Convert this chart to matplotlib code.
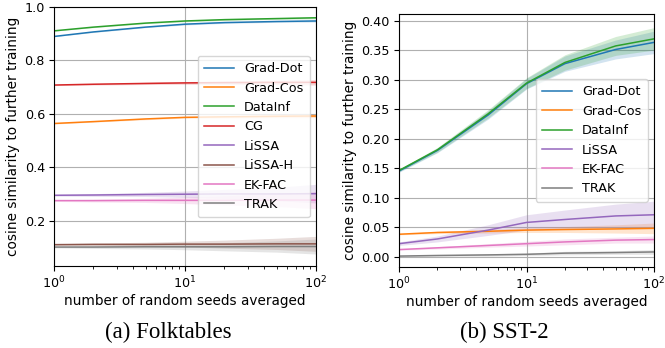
import numpy as np
from matplotlib import pyplot as plt

seeds = [1, 2, 5, 10, 20, 50, 100]

# Folktables: mean cosine similarity and band half-width per method
folk_methods = ['Grad-Dot', 'Grad-Cos', 'DataInf', 'CG', 'LiSSA', 'LiSSA-H', 'EK-FAC', 'TRAK']
folk_colors = ['C0', 'C1', 'C2', 'C3', 'C4', 'C5', 'C6', 'C7']
folk_mean = [
    [0.890, 0.907, 0.925, 0.936, 0.942, 0.946, 0.948],
    [0.564, 0.571, 0.581, 0.587, 0.589, 0.591, 0.592],
    [0.911, 0.925, 0.940, 0.948, 0.953, 0.957, 0.960],
    [0.708, 0.711, 0.714, 0.716, 0.717, 0.718, 0.718],
    [0.295, 0.296, 0.298, 0.299, 0.300, 0.300, 0.301],
    [0.110, 0.111, 0.111, 0.112, 0.112, 0.113, 0.113],
    [0.275, 0.275, 0.276, 0.276, 0.276, 0.277, 0.277],
    [0.101, 0.101, 0.102, 0.102, 0.102, 0.103, 0.103],
]
folk_err = [
    [0.001, 0.002, 0.002, 0.003, 0.003, 0.003, 0.004],
    [0.002, 0.002, 0.003, 0.003, 0.004, 0.005, 0.006],
    [0.001, 0.002, 0.002, 0.003, 0.003, 0.003, 0.004],
    [0.002, 0.003, 0.004, 0.005, 0.006, 0.008, 0.010],
    [0.003, 0.005, 0.008, 0.012, 0.017, 0.025, 0.035],
    [0.003, 0.005, 0.008, 0.011, 0.015, 0.021, 0.028],
    [0.003, 0.005, 0.008, 0.012, 0.017, 0.024, 0.032],
    [0.003, 0.005, 0.008, 0.011, 0.015, 0.021, 0.028],
]

# SST-2
sst_methods = ['Grad-Dot', 'Grad-Cos', 'DataInf', 'LiSSA', 'EK-FAC', 'TRAK']
sst_colors = ['C0', 'C1', 'C2', 'C4', 'C6', 'C7']
sst_mean = [
    [0.145, 0.180, 0.240, 0.293, 0.327, 0.351, 0.363],
    [0.038, 0.041, 0.043, 0.045, 0.046, 0.047, 0.048],
    [0.146, 0.181, 0.242, 0.294, 0.329, 0.357, 0.369],
    [0.022, 0.030, 0.045, 0.058, 0.063, 0.069, 0.071],
    [0.012, 0.015, 0.019, 0.022, 0.025, 0.028, 0.029],
    [0.001, 0.002, 0.003, 0.004, 0.006, 0.007, 0.008],
]
sst_err = [
    [0.002, 0.004, 0.007, 0.009, 0.013, 0.016, 0.019],
    [0.001, 0.002, 0.003, 0.004, 0.005, 0.007, 0.009],
    [0.002, 0.004, 0.007, 0.009, 0.013, 0.016, 0.019],
    [0.003, 0.005, 0.009, 0.013, 0.016, 0.020, 0.023],
    [0.001, 0.002, 0.003, 0.004, 0.005, 0.005, 0.006],
    [0.001, 0.001, 0.002, 0.002, 0.003, 0.003, 0.004],
]


def draw_panel(ax, methods, colors, means, errs):
    x = np.array(seeds)
    for name, c, m, e in zip(methods, colors, means, errs):
        m = np.array(m)
        e = np.array(e)
        ax.fill_between(x, m - e, m + e, color=c, alpha=0.2, linewidth=0)
        ax.plot(x, m, color=c, linewidth=1.1, label=name)
    ax.set_xscale('log')
    ax.set_xlim(1, 100)
    ax.grid(True, color='#b0b0b0', linewidth=0.8)
    ax.set_axisbelow(True)
    ax.tick_params(labelsize=9.2, pad=3)
    ax.set_xlabel('number of random seeds averaged', fontsize=9.8, labelpad=2)
    ax.set_ylabel('cosine similarity to further training', fontsize=9.8, labelpad=3)
    ax.legend(loc='center right', fontsize=9.2, framealpha=0.8,
              handlelength=2.3, borderpad=0.5)


fig = plt.figure(figsize=(6.65, 3.48), dpi=100)

ax1 = fig.add_axes([0.0812, 0.2356, 0.394, 0.744])
draw_panel(ax1, folk_methods, folk_colors, folk_mean, folk_err)
ax1.set_ylim(0.03, 1.0)
ax1.set_yticks([0.2, 0.4, 0.6, 0.8, 1.0])

ax2 = fig.add_axes([0.6, 0.2336, 0.3835, 0.726])
draw_panel(ax2, sst_methods, sst_colors, sst_mean, sst_err)
ax2.set_ylim(-0.017, 0.411)
ax2.set_yticks(np.arange(0, 0.41, 0.05))

fig.text(0.253, 0.046, '(a) Folktables', ha='center', va='center',
         family='Liberation Serif', fontsize=16.5)
fig.text(0.759, 0.046, '(b) SST-2', ha='center', va='center',
         family='Liberation Serif', fontsize=16.5)

plt.savefig('out.png', dpi=100)
